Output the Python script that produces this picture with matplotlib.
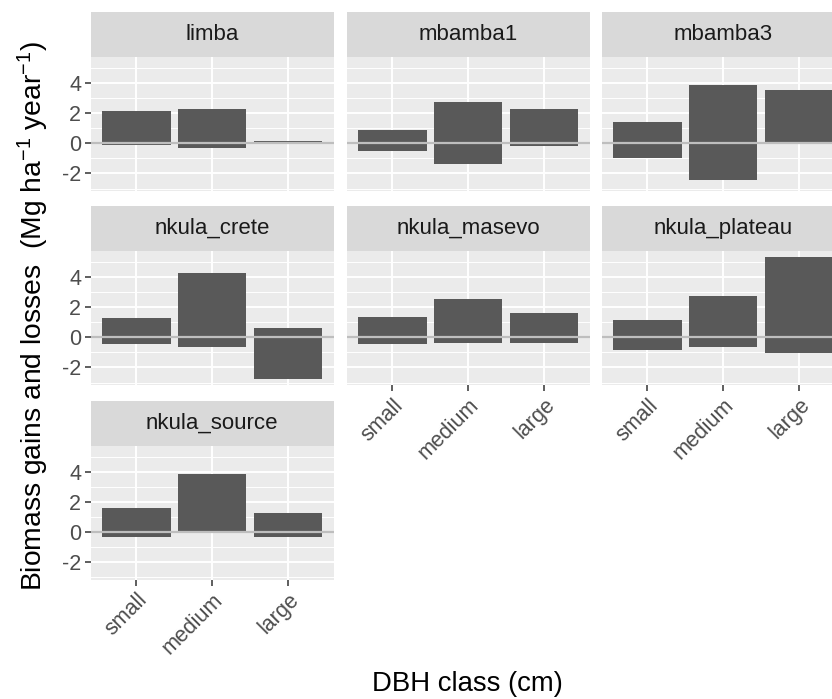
import numpy as np
import matplotlib
matplotlib.use("Agg")
from matplotlib import pyplot as plt
from matplotlib.ticker import MultipleLocator

plt.rcParams['font.family'] = ['Liberation Sans', 'DejaVu Sans']
plt.rcParams['mathtext.fontset'] = 'custom'
plt.rcParams['mathtext.rm'] = 'Liberation Sans'
plt.rcParams['mathtext.it'] = 'Liberation Sans:italic'
plt.rcParams['mathtext.bf'] = 'Liberation Sans:bold'
plt.rcParams['axes.unicode_minus'] = False

# biomass gains (positive) and losses (negative) per site and DBH class
sites = ["limba", "mbamba1", "mbamba3", "nkula_crete",
         "nkula_masevo", "nkula_plateau", "nkula_source"]
dbh_classes = ["small", "medium", "large"]
gains = [
    [2.13, 2.31, 0.18],
    [0.90, 2.79, 2.30],
    [1.43, 3.87, 3.54],
    [1.29, 4.28, 0.66],
    [1.34, 2.57, 1.60],
    [1.18, 2.74, 5.35],
    [1.59, 3.86, 1.28],
]
losses = [
    [-0.13, -0.33, -0.02],
    [-0.53, -1.37, -0.16],
    [-0.97, -2.42, -0.02],
    [-0.46, -0.62, -2.76],
    [-0.46, -0.40, -0.35],
    [-0.84, -0.66, -1.03],
    [-0.35, -0.03, -0.35],
]

W, H = 832, 699
fig = plt.figure(figsize=(W / 100, H / 100), dpi=100)
fig.patch.set_facecolor("white")

def px(l, t, w, h):
    return [l / W, 1 - (t + h) / H, w / W, h / H]

col_left = [91, 347, 602]
row_top = [57, 251, 445.5]
pw, ph, sh = 242.6, 134, 45

ymin = min(min(r) for r in losses)
ymax = max(max(r) for r in gains)
pad = 0.05 * (ymax - ymin)
ylim = (ymin - pad, ymax + pad)

x = np.arange(len(dbh_classes))
ncol = 3
for i, site in enumerate(sites):
    r, c = divmod(i, ncol)
    ax = fig.add_axes(px(col_left[c], row_top[r], pw, ph))
    ax.set_facecolor("#EBEBEB")
    for s in ax.spines.values():
        s.set_visible(False)
    ax.set_axisbelow(True)
    ax.yaxis.set_major_locator(MultipleLocator(2))
    ax.yaxis.set_minor_locator(MultipleLocator(1))
    ax.grid(which="major", color="white", lw=1.4)
    ax.grid(which="minor", axis="y", color="white", lw=0.7)
    ax.bar(x, gains[i], width=0.9, color="#595959", lw=0)
    ax.bar(x, losses[i], width=0.9, color="#595959", lw=0)
    ax.axhline(0, color="#BEBEBE", lw=1.6)
    ax.set_xlim(-0.6, 2.6)
    ax.set_ylim(*ylim)
    ax.set_xticks(x)
    ax.set_yticks([-2, 0, 2, 4])
    ax.tick_params(which="major", length=4, width=1.1, color="#333333",
                   labelcolor="#4D4D4D", labelsize=15.5, pad=3)
    ax.tick_params(which="minor", length=0)

    # bottom panel of each column carries the class labels
    bottom = (i + ncol >= len(sites))
    if bottom:
        ax.set_xticklabels(dbh_classes, rotation=45, ha="right", va="top",
                           rotation_mode="anchor")
    else:
        ax.tick_params(axis="x", length=0, labelbottom=False)
    if c != 0:
        ax.tick_params(axis="y", length=0, labelleft=False)

    st = fig.add_axes(px(col_left[c], row_top[r] - sh, pw, sh))
    st.set_facecolor("#D9D9D9")
    st.set_xticks([])
    st.set_yticks([])
    for s in st.spines.values():
        s.set_visible(False)
    st.text(0.5, 0.5, site, ha="center", va="center", fontsize=16,
            color="#1A1A1A", transform=st.transAxes)

fig.text(467 / W, 1 - 684 / H, "DBH class (cm)", ha="center", va="center",
         fontsize=19.8, color="black")
fig.text(33 / W, 1 - 316 / H,
         r"Biomass gains and losses  (Mg ha$^{-1}$ year$^{-1}$)",
         ha="center", va="center", rotation=90, fontsize=20.3, color="black")

fig.savefig("out.png", dpi=100)
